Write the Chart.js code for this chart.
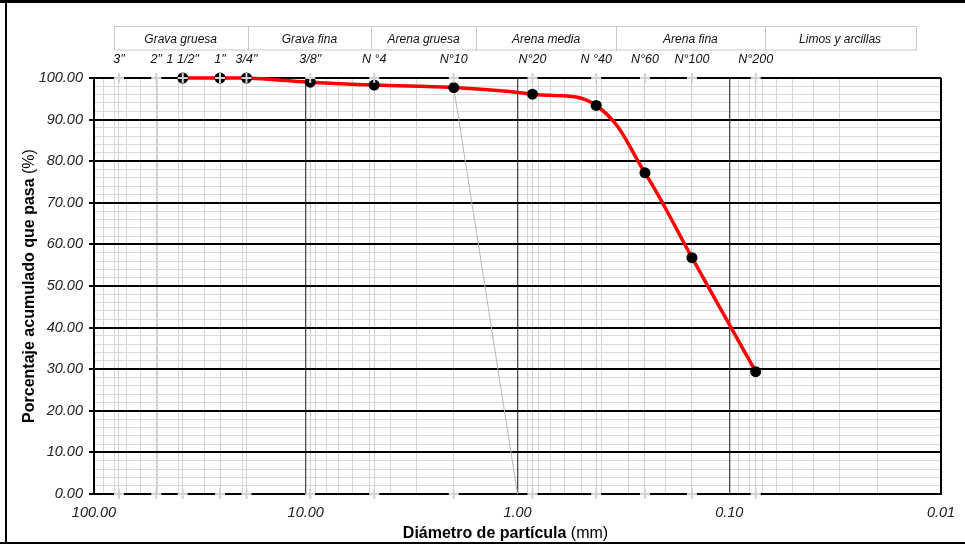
<!DOCTYPE html>
<html>
<head>
<meta charset="utf-8">
<script src="https://cdn.jsdelivr.net/npm/chart.js@4.4.1/dist/chart.umd.min.js"></script>
<style>
  html, body { margin: 0; padding: 0; background: #fff; }
  #wrap { width: 965px; height: 547px; position: relative; }
  canvas { display: block; }
</style>
</head>
<body>
<div id="wrap"><canvas id="c" width="965" height="547"></canvas></div>
<script>
// Sieve series: names and openings (mm)
const sieveNames = ['3"', '2"', '1 1/2"', '1"', '3/4"', '3/8"', 'N °4', 'N°10', 'N°20', 'N °40', 'N°60', 'N°100', 'N°200'];
const sieveSizes = [76.2, 50.8, 38.1, 25.4, 19.05, 9.525, 4.75, 2.0, 0.85, 0.425, 0.25, 0.15, 0.075];

// Grading curve: openings (mm) and cumulative percent passing
const testSizes = [38.1, 25.4, 19.05, 9.525, 4.75, 2.0, 0.85, 0.425, 0.25, 0.15, 0.075];
const percentPassing = [100, 100, 100, 99.0, 98.3, 97.7, 96.1, 93.4, 77.2, 56.8, 29.4];

// Thin guide from the N°10 reading down to 1 mm
const guideSizes = [2.0, 1.0];
const guideValues = [97.7, 0];

// Soil classification bands: edges (mm, coarse to fine) and names
const bandEdges = [80.8, 18.8, 4.91, 1.57, 0.342, 0.068, 0.0132];
const bandNames = ['Grava gruesa', 'Grava fina', 'Arena gruesa', 'Arena media', 'Arena fina', 'Limos y arcillas'];

// Axis ticks
const xDecades = [100, 10, 1, 0.1, 0.01];
const xDecadeLabels = ['100.00', '10.00', '1.00', '0.10', '0.01'];
const yMin = 0, yMax = 100, yMinorStep = 2, yMajorStep = 10;

const FONT = "'Liberation Sans', Arial, Helvetica, sans-serif";

// vertical grid: 1..9 x each decade between 0.01 and 100
const xGrid = [];
for (let e = -2; e < 2; e++) {
  for (let k = 1; k < 10; k++) xGrid.push(+(k * Math.pow(10, e)).toPrecision(3));
}
xGrid.push(100);
const yGrid = [];
for (let v = yMin; v <= yMax; v += yMinorStep) yGrid.push(v);
const yMajor = yGrid.filter(v => v % yMajorStep === 0);
const yMinor = yGrid.filter(v => v % yMajorStep !== 0);

const decadeIndex = v => xDecades.findIndex(d => Math.abs(Math.log10(d) - Math.log10(v)) < 1e-6);
const isEdge = v => Math.abs(v - 0.01) < 1e-9 || Math.abs(v - 100) < 1e-9;

const decorPlugin = {
  id: 'decor',
  beforeDraw(chart) {
    const ctx = chart.ctx;
    ctx.save();
    ctx.fillStyle = '#fff';
    ctx.fillRect(0, 0, chart.width, chart.height);
    // outer frame
    ctx.fillStyle = '#000';
    ctx.fillRect(0, 0, chart.width, 3);
    ctx.fillRect(5, 0, 2, 544);
    ctx.fillRect(0, 542, chart.width, 2);
    ctx.restore();
  },
  afterDraw(chart) {
    const ctx = chart.ctx;
    const area = chart.chartArea;
    const xs = chart.scales.x;
    ctx.save();
    // classification bands above the sieve labels
    const top = area.top - 52, h = 23.5;
    ctx.strokeStyle = '#c8c8c8';
    ctx.lineWidth = 1;
    ctx.fillStyle = '#111';
    ctx.font = 'italic 12px ' + FONT;
    ctx.textAlign = 'center';
    ctx.textBaseline = 'middle';
    for (let i = 0; i < bandNames.length; i++) {
      const x0 = xs.getPixelForValue(bandEdges[i]);
      const x1 = xs.getPixelForValue(bandEdges[i + 1]);
      ctx.strokeRect(Math.round(x0) + 0.5, Math.round(top) + 0.5, Math.round(x1 - x0), h);
      ctx.fillText(bandNames[i], (x0 + x1) / 2, top + h / 2 + 2);
    }
    // axis titles: bold label with regular unit
    const drawTitle = (bold, reg) => {
      ctx.font = 'bold 16px ' + FONT;
      const wb = ctx.measureText(bold).width;
      ctx.font = '16px ' + FONT;
      const wr = ctx.measureText(reg).width;
      const start = -(wb + wr) / 2;
      ctx.textAlign = 'left';
      ctx.textBaseline = 'alphabetic';
      ctx.fillStyle = '#000';
      ctx.font = 'bold 16px ' + FONT;
      ctx.fillText(bold, start, 0);
      ctx.font = '16px ' + FONT;
      ctx.fillText(reg, start + wb, 0);
    };
    ctx.save();
    ctx.translate(33.5, (area.top + area.bottom) / 2);
    ctx.rotate(-Math.PI / 2);
    drawTitle('Porcentaje acumulado que pasa ', '(%)');
    ctx.restore();
    ctx.save();
    ctx.translate((area.left + area.right) / 2 - 12, 537.5);
    drawTitle('Diámetro de partícula ', '(mm)');
    ctx.restore();
    ctx.restore();
  }
};

new Chart(document.getElementById('c'), {
  type: 'line',
  data: {
    datasets: [
      {
        label: 'Tamices',
        type: 'scatter',
        data: sieveSizes.flatMap(s => [{ x: s, y: yMax }, { x: s, y: yMin }]),
        xAxisID: 'x',
        yAxisID: 'y',
        showLine: false,
        pointStyle: 'cross',
        pointRadius: 5,
        pointHoverRadius: 5,
        borderColor: '#d2d2d2',
        backgroundColor: '#d2d2d2',
        borderWidth: 2,
        clip: false,
        order: 1
      },
      {
        label: 'Curva granulométrica',
        data: testSizes.map((s, i) => ({ x: s, y: percentPassing[i] })),
        xAxisID: 'x',
        yAxisID: 'y',
        borderColor: '#ff0000',
        borderWidth: 3.5,
        tension: 0.4,
        pointRadius: 5.5,
        pointHoverRadius: 5.5,
        pointBackgroundColor: '#000',
        pointBorderColor: '#000',
        pointBorderWidth: 0,
        clip: false,
        order: 2
      },
      {
        label: 'Guía',
        data: guideSizes.map((s, i) => ({ x: s, y: guideValues[i] })),
        xAxisID: 'x',
        yAxisID: 'y',
        borderColor: '#b8b8b8',
        borderWidth: 1,
        tension: 0,
        pointRadius: 0,
        order: 3
      }
    ]
  },
  options: {
    responsive: false,
    animation: false,
    events: [],
    layout: { padding: { left: 0, right: 24, top: 0, bottom: 0 } },
    plugins: { legend: { display: false }, tooltip: { enabled: false } },
    scales: {
      // light horizontal lines every 2 %, drawn underneath everything
      yMinor: {
        min: yMin,
        max: yMax,
        position: 'left',
        z: -3,
        afterBuildTicks: s => { s.ticks = yMinor.map(v => ({ value: v })); },
        afterFit: s => { s.width = 0; },
        ticks: { display: false },
        grid: { drawTicks: false, color: '#dadada', lineWidth: 1 },
        border: { display: false }
      },
      // vertical lines at each sieve opening
      xTop: {
        type: 'logarithmic',
        position: 'top',
        reverse: true,
        min: 0.01,
        max: 100,
        z: -2,
        afterBuildTicks: s => { s.ticks = sieveSizes.map(v => ({ value: v })); },
        afterFit: s => { s.height = 78; },
        ticks: {
          autoSkip: false, maxRotation: 0, minRotation: 0, padding: 11,
          color: '#111',
          font: { family: FONT, size: 12.5, style: 'italic' },
          callback: (v, i) => sieveNames[i]
        },
        grid: { drawTicks: false, color: '#cdcdcd', lineWidth: 1 },
        border: { display: false }
      },
      x: {
        type: 'logarithmic',
        position: 'bottom',
        reverse: true,
        min: 0.01,
        max: 100,
        z: -1,
        afterBuildTicks: s => { s.ticks = xGrid.map(v => ({ value: v })); },
        afterFit: s => { s.height = 53; },
        ticks: {
          autoSkip: false, maxRotation: 0, minRotation: 0, padding: 10,
          color: '#222',
          font: { family: FONT, size: 14.5, style: 'italic' },
          callback: v => { const i = decadeIndex(v); return i >= 0 ? xDecadeLabels[i] : ''; }
        },
        grid: {
          drawTicks: false,
          color: c => isEdge(c.tick.value) ? '#000' : (decadeIndex(c.tick.value) >= 0 ? '#4a4a4a' : '#d6d6d6'),
          lineWidth: c => isEdge(c.tick.value) ? 2 : (decadeIndex(c.tick.value) >= 0 ? 1.3 : 1)
        },
        border: { display: true, color: '#000', width: 2 }
      },
      y: {
        min: yMin,
        max: yMax,
        position: 'left',
        z: 0,
        afterBuildTicks: s => { s.ticks = yMajor.map(v => ({ value: v })); },
        afterFit: s => { s.width = 94; },
        ticks: {
          autoSkip: false, padding: 6,
          color: '#222',
          font: { family: FONT, size: 14.5, style: 'italic' },
          callback: v => v.toFixed(2)
        },
        grid: { tickLength: 5, tickColor: '#000', color: '#000', lineWidth: 2 },
        border: { display: true, color: '#000', width: 2 }
      }
    }
  },
  plugins: [decorPlugin]
});
</script>
</body>
</html>
